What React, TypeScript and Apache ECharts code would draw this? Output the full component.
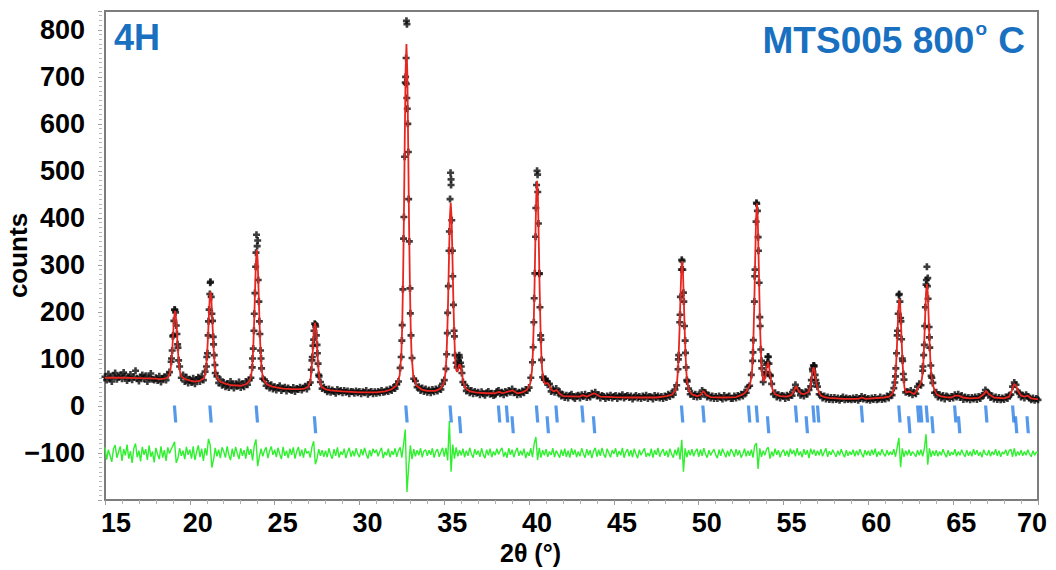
import React, { useEffect, useRef } from "react";
import * as echarts from "echarts";

const FONT = '"Liberation Sans", Arial, Helvetica, sans-serif';

// Measured scan: 2θ from 15.0° in 0.1° steps
const scanStart = 15;
const scanStep = 0.1;
const observedCounts = [
  62, 55, 68, 59, 52, 64, 70, 57, 61, 66,
  58, 71, 63, 54, 60, 67, 56, 62, 75, 59,
  53, 61, 66, 58, 64, 52, 60, 69, 57, 55,
  60, 54, 63, 51, 59, 62, 55, 66, 72, 94,
  148, 205, 171, 124, 84, 60, 66, 52, 61, 49,
  57, 50, 59, 47, 56, 61, 52, 63, 55, 73,
  104, 180, 262, 196, 131, 70, 63, 49, 56, 44,
  50, 41, 48, 39, 52, 46, 38, 47, 42, 51,
  39, 47, 41, 52, 45, 55, 60, 101, 196, 326,
  352, 180, 101, 58, 56, 43, 48, 38, 45, 36,
  41, 34, 39, 43, 33, 37, 40, 32, 38, 35,
  33, 39, 31, 37, 35, 40, 34, 38, 42, 36,
  45, 50, 97, 141, 173, 130, 66, 51, 37, 40,
  35, 30, 36, 29, 34, 31, 27, 35, 30, 33,
  28, 33, 29, 32, 26, 31, 30, 27, 32, 28,
  31, 26, 30, 28, 33, 25, 29, 31, 26, 30,
  27, 31, 28, 33, 29, 30, 34, 31, 36, 33,
  39, 37, 46, 52, 81, 139, 356, 688, 812, 440,
  197, 102, 58, 53, 40, 41, 33, 38, 31, 36,
  29, 34, 28, 35, 30, 36, 32, 38, 35, 47,
  55, 79, 198, 371, 470, 276, 148, 92, 86, 103,
  84, 51, 45, 32, 37, 28, 33, 26, 31, 27,
  29, 24, 30, 26, 23, 28, 31, 25, 27, 22,
  24, 31, 33, 26, 29, 24, 31, 27, 33, 29,
  36, 28, 31, 24, 29, 25, 32, 28, 35, 33,
  39, 60, 93, 229, 421, 492, 281, 141, 61, 56,
  53, 45, 47, 31, 36, 29, 37, 28, 30, 21,
  24, 18, 23, 17, 22, 25, 19, 16, 21, 23,
  17, 24, 20, 25, 18, 22, 19, 27, 24, 29,
  21, 24, 17, 22, 20, 16, 21, 18, 23, 17,
  20, 22, 16, 21, 19, 24, 17, 20, 22, 18,
  21, 15, 19, 22, 17, 20, 16, 21, 18, 23,
  16, 20, 19, 15, 22, 18, 21, 17, 20, 16,
  21, 18, 25, 20, 27, 24, 35, 44, 99, 194,
  311, 241, 139, 55, 37, 25, 27, 20, 25, 19,
  24, 20, 33, 29, 28, 19, 23, 17, 21, 16,
  20, 16, 21, 18, 15, 22, 17, 19, 21, 16,
  16, 21, 17, 22, 19, 25, 21, 29, 28, 40,
  43, 66, 114, 276, 432, 359, 189, 96, 51, 66,
  88, 104, 66, 47, 25, 28, 19, 24, 17, 22,
  21, 16, 23, 18, 25, 22, 34, 45, 36, 33,
  23, 28, 21, 30, 25, 34, 42, 79, 86, 55,
  41, 25, 24, 17, 21, 15, 19, 14, 18, 13,
  18, 14, 17, 12, 16, 19, 13, 17, 14, 16,
  13, 17, 14, 18, 12, 16, 20, 15, 18, 13,
  16, 12, 17, 14, 18, 13, 15, 19, 14, 17,
  15, 21, 17, 25, 23, 38, 63, 150, 236, 187,
  101, 56, 29, 31, 27, 33, 24, 29, 26, 41,
  47, 44, 75, 130, 258, 272, 146, 64, 49, 28,
  29, 19, 24, 17, 22, 15, 21, 19, 16, 20,
  17, 24, 19, 25, 18, 22, 14, 19, 15, 18,
  13, 18, 15, 19, 14, 20, 16, 22, 23, 34,
  29, 27, 18, 21, 15, 19, 14, 18, 13, 17,
  14, 19, 16, 23, 24, 41, 50, 45, 30, 28,
  19, 23, 17, 24, 20, 17, 13, 17, 12, 16,
  13,
];

// Extra observed points read along the peak flanks: [2θ, counts]
const observedPeakPoints = [
  [18.92, 101], [18.96, 118], [19.02, 150], [19.06, 181], [19.12, 204], [19.16, 199], [19.24, 153], [19.28, 131], [19.34, 97],
  [20.98, 84], [21.04, 112], [21.08, 150], [21.14, 205], [21.18, 238], [21.22, 264], [21.26, 232], [21.34, 181], [21.38, 147], [21.44, 108], [21.48, 87],
  [23.68, 82], [23.74, 122], [23.78, 160], [23.84, 240], [23.88, 296], [23.93, 364], [23.97, 340], [24.03, 268], [24.07, 222], [24.13, 153], [24.17, 118], [24.23, 80],
  [27.16, 77], [27.22, 104], [27.26, 128], [27.32, 160], [27.36, 175], [27.42, 169], [27.46, 150], [27.52, 112], [27.56, 90], [27.62, 63],
  [32.46, 104], [32.52, 172], [32.56, 248], [32.62, 402], [32.66, 530], [32.72, 700], [32.75, 740], [32.76, 685], [32.77, 819], [32.79, 655], [32.82, 632], [32.85, 600], [32.88, 540], [32.94, 350], [32.98, 250], [33.04, 150],
  [35.14, 110], [35.18, 155], [35.24, 255], [35.28, 330], [35.34, 440], [35.37, 496], [35.40, 482], [35.44, 395], [35.48, 330], [35.54, 215], [35.58, 160], [35.64, 108], [35.76, 82], [35.84, 96], [35.88, 108], [35.96, 92], [36.04, 70],
  [40.24, 125], [40.28, 178], [40.34, 282], [40.38, 360], [40.44, 470], [40.47, 500], [40.51, 455], [40.55, 388], [40.60, 282], [40.64, 210], [40.68, 150], [40.74, 98], [40.96, 58], [41.06, 52],
  [48.78, 78], [48.82, 108], [48.88, 178], [48.92, 232], [48.98, 290], [49.02, 308], [49.06, 290], [49.12, 222], [49.16, 170], [49.22, 113], [49.26, 82], [49.32, 52],
  [53.18, 96], [53.22, 140], [53.28, 222], [53.32, 290], [53.38, 392], [53.42, 430], [53.46, 415], [53.52, 330], [53.56, 262], [53.62, 170], [53.66, 120], [53.72, 80], [53.96, 72], [54.04, 92], [54.08, 105], [54.14, 90], [54.22, 64],
  [56.64, 55], [56.72, 74], [56.76, 86], [56.80, 84], [56.86, 66], [56.94, 48],
  [61.56, 50], [61.62, 80], [61.66, 112], [61.72, 160], [61.76, 196], [61.82, 238], [61.86, 222], [61.92, 180], [61.96, 142], [62.02, 96], [62.06, 68],
  [63.22, 84], [63.26, 108], [63.32, 170], [63.36, 210], [63.42, 268], [63.45, 296], [63.48, 255], [63.52, 228], [63.58, 168], [63.62, 124], [63.68, 86], [63.74, 60],
];

// Calculated (refined) profile: [2θ, counts]
const calculatedProfile = [
  [15.0, 60], [16.0, 60], [17.0, 59], [18.0, 58], [18.23, 57], [18.53, 58], [18.73, 62], [18.83, 71], [18.88, 83], [18.93, 102], [18.98, 129], [19.03, 161], [19.08, 190], [19.13, 202], [19.18, 190], [19.23, 161], [19.28, 129], [19.33, 102], [19.38, 83], [19.43, 71], [19.53, 62], [19.73, 57],
  [20.03, 54], [20.32, 52], [20.62, 54], [20.82, 59], [20.92, 70], [20.97, 86], [21.02, 111], [21.07, 146], [21.12, 189], [21.17, 227], [21.22, 243], [21.27, 227], [21.32, 189], [21.37, 146], [21.42, 111], [21.47, 86], [21.52, 70], [21.62, 58], [21.82, 51],
  [22.12, 47], [22.5, 44], [23.05, 43], [23.35, 47], [23.55, 55], [23.65, 73], [23.70, 96], [23.75, 134], [23.80, 187], [23.85, 251], [23.90, 309], [23.95, 332], [24.00, 309], [24.05, 251], [24.10, 187], [24.15, 134], [24.20, 96], [24.25, 73], [24.35, 55], [24.55, 46], [24.85, 41],
  [25.5, 37], [26.0, 36], [26.48, 36], [26.78, 37], [26.98, 41], [27.08, 50], [27.13, 61], [27.18, 80], [27.23, 106], [27.28, 137], [27.33, 166], [27.38, 177], [27.43, 166], [27.48, 137], [27.53, 106], [27.58, 80], [27.63, 61], [27.68, 50], [27.78, 40], [27.98, 36],
  [28.28, 33], [29.0, 31], [30.0, 29], [31.0, 29], [31.5, 31], [31.87, 35], [32.17, 43], [32.37, 65], [32.47, 110], [32.52, 169], [32.57, 265], [32.62, 399], [32.67, 562], [32.72, 711], [32.77, 770], [32.82, 711], [32.87, 562], [32.92, 399], [32.97, 265], [33.02, 169], [33.07, 110], [33.17, 65], [33.37, 43], [33.67, 35],
  [34.0, 32], [34.48, 32], [34.78, 37], [34.98, 49], [35.08, 73], [35.13, 105], [35.18, 159], [35.23, 231], [35.28, 319], [35.33, 400], [35.38, 432], [35.43, 401], [35.48, 320], [35.53, 234], [35.58, 163], [35.63, 111], [35.68, 82], [35.73, 74], [35.78, 73], [35.83, 80], [35.88, 87], [35.93, 88], [35.98, 83],
  [36.03, 72], [36.08, 60], [36.13, 50], [36.23, 39], [36.33, 35], [36.53, 31], [36.83, 29], [37.5, 27], [38.0, 27], [38.23, 30], [38.45, 27], [38.7, 30], [39.03, 33], [39.3, 27], [39.6, 29], [39.87, 34],
  [40.07, 48], [40.17, 75], [40.22, 111], [40.27, 170], [40.32, 252], [40.37, 352], [40.42, 443], [40.47, 479], [40.52, 443], [40.57, 352], [40.62, 252], [40.67, 170], [40.72, 111], [40.77, 77], [40.87, 52], [40.97, 47],
  [41.10, 49], [41.2, 43], [41.3, 35], [41.45, 31], [41.62, 34], [41.8, 26], [42.0, 21], [43.0, 20], [43.15, 23], [43.4, 20], [43.83, 27], [44.2, 20], [45.0, 19], [46.0, 18], [47.5, 18],
  [48.12, 21], [48.42, 24], [48.62, 33], [48.72, 50], [48.77, 73], [48.82, 111], [48.87, 163], [48.92, 227], [48.97, 285], [49.02, 308], [49.07, 285], [49.12, 227], [49.17, 163], [49.22, 111], [49.27, 73], [49.32, 50], [49.42, 33], [49.62, 24], [49.92, 21],
  [50.1, 23], [50.28, 32], [50.45, 23], [50.7, 19], [51.5, 18], [52.2, 19], [52.5, 23], [52.7, 27], [52.85, 33], [52.97, 42],
  [53.03, 47], [53.13, 67], [53.18, 99], [53.23, 151], [53.28, 225], [53.33, 315], [53.38, 397], [53.43, 431], [53.48, 398], [53.53, 316], [53.58, 227], [53.63, 153], [53.68, 101], [53.73, 69], [53.83, 52], [53.93, 61],
  [54.0, 81], [54.09, 94], [54.17, 78], [54.25, 55], [54.35, 35], [54.5, 25], [54.8, 21], [55.2, 20], [55.45, 23], [55.6, 31], [55.74, 42], [55.9, 31],
  [56.05, 26], [56.2, 25], [56.37, 28], [56.47, 30], [56.57, 39], [56.62, 50], [56.67, 64], [56.72, 77], [56.77, 82], [56.82, 77], [56.87, 64], [56.92, 51], [56.97, 43], [57.04, 34], [57.1, 28], [57.2, 22], [57.4, 19], [57.7, 17],
  [58.5, 15], [59.4, 15], [59.62, 18], [59.85, 15], [60.93, 18], [61.23, 20], [61.43, 27], [61.53, 39], [61.58, 56], [61.63, 84], [61.68, 122], [61.73, 169], [61.78, 211], [61.83, 228], [61.88, 211], [61.93, 169], [61.98, 122],
  [62.03, 84], [62.08, 56], [62.13, 39], [62.23, 28], [62.41, 31], [62.6, 27], [62.7, 25], [62.85, 32], [62.94, 40],
  [63.05, 45], [63.15, 56], [63.2, 71], [63.25, 99], [63.3, 141], [63.35, 193], [63.4, 241], [63.45, 260], [63.5, 241], [63.55, 192], [63.6, 143], [63.65, 101], [63.7, 71], [63.78, 49], [63.85, 39], [63.95, 30],
  [64.05, 24], [64.25, 21], [64.55, 19], [64.9, 18], [65.12, 22], [65.35, 22], [65.55, 18], [66.0, 16], [66.5, 17], [66.8, 25], [66.95, 32], [67.1, 25], [67.4, 18],
  [68.0, 16], [68.3, 20], [68.45, 32], [68.6, 47], [68.71, 42], [68.85, 30], [69.0, 22], [69.2, 20], [69.39, 22], [69.6, 16], [70.0, 14],
];

// Difference curve (obs - calc, plotted with a -100 offset), same 0.1° grid
const differenceCounts = [
  -88, -114, -93, -106, -119, -91, -83, -110, -98, -86,
  -117, -92, -105, -82, -112, -96, -121, -90, -80, -109,
  -95, -118, -87, -104, -92, -115, -84, -108, -97, -120,
  -89, -103, -113, -86, -110, -94, -117, -88, -101, -92,
  -85, -76, -121, -111, -90, -106, -95, -113, -87, -104,
  -93, -112, -86, -115, -98, -84, -109, -91, -117, -90,
  -105, -70, -83, -131, -114, -89, -107, -93, -111, -88,
  -97, -110, -86, -104, -115, -91, -108, -87, -101, -113,
  -90, -106, -94, -112, -86, -104, -92, -116, -84, -71,
  -128, -108, -91, -107, -95, -88, -111, -96, -86, -104,
  -93, -109, -89, -102, -113, -87, -106, -95, -111, -91,
  -104, -88, -112, -97, -87, -107, -93, -110, -90, -101,
  -96, -110, -87, -75, -124, -112, -92, -106, -94, -108,
  -95, -109, -90, -104, -112, -92, -106, -88, -110, -97,
  -104, -91, -111, -98, -89, -108, -95, -107, -90, -102,
  -109, -92, -105, -89, -102, -112, -94, -107, -91, -100,
  -93, -107, -97, -89, -111, -98, -105, -91, -109, -96,
  -104, -90, -108, -95, -88, -110, -82, -50, -183, -130,
  -84, -113, -92, -107, -94, -105, -90, -109, -96, -93,
  -106, -94, -104, -90, -110, -97, -92, -108, -98, -89,
  -108, -89, -116, -32, -140, -82, -112, -88, -107, -94,
  -105, -91, -109, -95, -106, -89, -102, -110, -92, -104,
  -95, -108, -90, -104, -111, -93, -105, -91, -109, -97,
  -105, -91, -103, -95, -89, -108, -98, -110, -90, -104,
  -93, -109, -97, -89, -106, -95, -105, -91, -111, -98,
  -106, -90, -109, -80, -66, -115, -89, -110, -94, -105,
  -92, -108, -97, -104, -90, -109, -95, -102, -110, -93,
  -106, -91, -108, -95, -110, -90, -104, -93, -109, -97,
  -107, -90, -102, -110, -92, -105, -94, -111, -96, -89,
  -108, -93, -106, -89, -103, -110, -91, -100, -109, -94,
  -102, -90, -108, -96, -105, -89, -110, -98, -92, -107,
  -94, -109, -91, -102, -111, -93, -105, -97, -90, -108,
  -100, -107, -91, -110, -94, -104, -89, -108, -98, -92,
  -106, -95, -109, -91, -102, -110, -93, -105, -88, -114,
  -72, -140, -90, -109, -94, -105, -92, -107, -97, -91,
  -108, -93, -106, -90, -102, -110, -94, -105, -98, -92,
  -104, -111, -93, -106, -91, -100, -109, -95, -107, -92,
  -98, -108, -92, -105, -94, -110, -102, -91, -107, -95,
  -106, -93, -110, -84, -79, -134, -90, -108, -95, -105,
  -92, -88, -112, -97, -107, -91, -104, -94, -109, -98,
  -93, -106, -95, -108, -91, -102, -94, -107, -90, -105,
  -97, -109, -92, -104, -94, -111, -91, -103, -93, -106,
  -95, -105, -92, -107, -98, -90, -108, -96, -104, -93,
  -101, -108, -95, -105, -92, -102, -109, -94, -106, -97,
  -104, -93, -107, -95, -105, -92, -101, -109, -94, -105,
  -95, -106, -93, -104, -91, -108, -97, -105, -92, -102,
  -107, -94, -105, -97, -104, -92, -108, -88, -68, -130,
  -90, -108, -95, -105, -93, -106, -97, -102, -108, -94,
  -105, -93, -107, -91, -60, -125, -90, -108, -95, -106,
  -94, -107, -97, -105, -92, -102, -109, -94, -106, -98,
  -104, -92, -107, -97, -105, -93, -102, -108, -94, -106,
  -97, -107, -92, -104, -94, -106, -98, -109, -93, -102,
  -105, -94, -107, -97, -104, -92, -106, -95, -108, -98,
  -102, -93, -106, -95, -92, -108, -90, -107, -97, -105,
  -94, -106, -97, -105, -93, -102, -108, -95, -105, -98,
  -100,
];

// Reflection (Bragg) positions, 2θ
const braggRowA = [19.13, 21.22, 23.95, 32.77, 35.38, 38.23, 38.7, 40.47, 41.62, 43.15, 49.02, 50.28, 52.97, 53.43, 55.74, 56.77, 57.04, 59.62, 61.83, 62.94, 63.11, 63.45, 65.12, 66.95, 68.54];
const braggRowB = [27.38, 35.93, 39.03, 41.1, 43.83, 54.09, 56.37, 62.41, 63.78, 65.35, 68.71, 69.39];

const yLabelled = [-100, 0, 100, 200, 300, 400, 500, 600, 700, 800];

const ROW_A_Y = -17;
const ROW_B_Y = -40;
const PLUS = "path://M2.5,0H5.5V2.5H8V5.5H5.5V8H2.5V5.5H0V2.5H2.5Z";
const TICK_BAR = "path://M0,0H3.2L4.5,16H1.3Z";

export default function App() {
  const ref = useRef<HTMLDivElement>(null);
  useEffect(() => {
    document.body.style.margin = "0";
    const el = ref.current;
    if (!el) return;
    const chart = echarts.init(el, null, { renderer: "svg" });
    const gx = (i: number) => Math.round((scanStart + i * scanStep) * 100) / 100;
    const obs = observedCounts.map((c, i) => [gx(i), c]).concat(observedPeakPoints);
    const diff = differenceCounts.map((c, i) => [gx(i), c]);
    const blue = "#1a70c0";
    const lbl = { fontSize: 27, fontWeight: "bold", color: "#000", fontFamily: FONT };
    chart.setOption({
      animation: false,
      backgroundColor: "#ffffff",
      title: [
        {
          text: "4H",
          left: 114,
          top: 19,
          padding: 0,
          textStyle: { color: blue, fontSize: 36, fontWeight: "bold", fontFamily: FONT },
        },
        {
          text: "{a|MTS005 800}{s|o}{a| C}",
          right: 31,
          top: 19,
          padding: 0,
          textStyle: {
            rich: {
              a: { color: blue, fontSize: 37, fontWeight: "bold", fontFamily: FONT, lineHeight: 42 },
              s: { color: blue, fontSize: 19, fontWeight: "bold", fontFamily: FONT, verticalAlign: "top", lineHeight: 42, padding: [0, 1, 14, 1] },
            },
          },
        },
      ],
      grid: {
        left: 105,
        right: 18,
        top: 11,
        bottom: 70,
        containLabel: false,
        outerBoundsMode: "none",
        show: true,
        borderColor: "#7d7d7d",
        borderWidth: 2,
      },
      xAxis: {
        type: "value",
        min: 15,
        max: 70,
        interval: 5,
        name: "2θ (°)",
        nameLocation: "middle",
        nameGap: 40,
        nameMoveOverlap: false,
        nameTextStyle: { fontSize: 25, fontWeight: "bold", color: "#000", fontFamily: FONT, padding: [0, 82, 0, 0] },
        axisLine: { show: false, onZero: false },
        axisTick: { show: true, length: 5, lineStyle: { color: "#9a9a9a", width: 1 } },
        minorTick: { show: true, splitNumber: 5, length: 4, lineStyle: { color: "#b0b0b0", width: 1 } },
        splitLine: { show: false },
        axisLabel: {
          margin: 9,
          formatter: (v: number) => (v === 70 ? `{e|${v}}` : v === 15 ? `{f|${v}}` : `{n|${v}}`),
          rich: {
            n: { ...lbl, padding: [0, 0, 0, 16] },
            f: { ...lbl, padding: [0, 0, 0, 22] },
            e: { ...lbl, padding: [0, 12, 0, 0] },
          },
        },
      },
      yAxis: {
        type: "value",
        min: -200,
        max: 840,
        interval: 100,
        offset: 3,
        name: "counts",
        nameLocation: "middle",
        nameGap: 71,
        nameMoveOverlap: false,
        nameTextStyle: { fontSize: 26, fontWeight: "bold", color: "#000", fontFamily: FONT },
        axisLine: { show: false, onZero: false },
        axisTick: { show: true, length: 4, lineStyle: { color: "#a0a0a0", width: 1 } },
        minorTick: { show: true, splitNumber: 10, length: 3, lineStyle: { color: "#b8b8b8", width: 1 } },
        splitLine: { show: false },
        axisLabel: {
          ...lbl,
          margin: 17,
          formatter: (v: number) => (yLabelled.indexOf(v) >= 0 ? (v < 0 ? "\u2212" + Math.abs(v) : String(v)) : ""),
        },
      },
      series: [
        {
          type: "line",
          name: "difference",
          data: diff,
          symbol: "none",
          showSymbol: false,
          silent: true,
          lineStyle: { color: "#2ef02e", width: 1.4 },
          z: 2,
        },
        {
          type: "scatter",
          name: "reflections A",
          data: braggRowA.map((x) => [x, ROW_A_Y]),
          symbol: TICK_BAR,
          symbolSize: [4.5, 17],
          silent: true,
          itemStyle: { color: "#2c80e6" },
          z: 3,
        },
        {
          type: "scatter",
          name: "reflections B",
          data: braggRowB.map((x) => [x, ROW_B_Y]),
          symbol: TICK_BAR,
          symbolSize: [4.5, 17],
          silent: true,
          itemStyle: { color: "#2c80e6" },
          z: 3,
        },
        {
          type: "scatter",
          name: "observed",
          data: obs,
          symbol: PLUS,
          symbolSize: 7,
          silent: true,
          itemStyle: { color: "#0b0b0b" },
          z: 4,
        },
        {
          type: "line",
          name: "calculated",
          data: calculatedProfile,
          symbol: "none",
          showSymbol: false,
          silent: true,
          lineStyle: { color: "#e8261f", width: 1.8 },
          z: 5,
        },
      ],
    });
    return () => chart.dispose();
  }, []);
  return <div ref={ref} style={{ width: 1056, height: 570 }} />;
}
